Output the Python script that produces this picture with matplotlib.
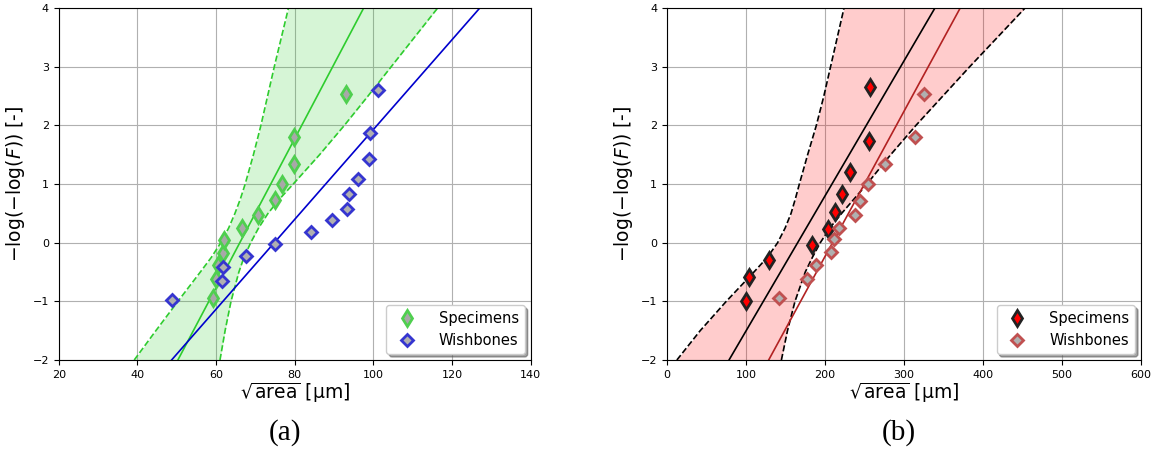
import matplotlib
matplotlib.use('Agg')
import matplotlib.pyplot as plt
import numpy as np

# ---- (a) data ----
a_spec_x = [59.2, 59.9, 60.5, 61.7, 62.1, 66.7, 70.6, 75.0, 76.7, 79.7, 79.9, 93.1]
a_spec_y = [-0.94, -0.61, -0.38, -0.17, 0.05, 0.26, 0.47, 0.73, 1.00, 1.34, 1.80, 2.53]
a_wish_x = [48.8, 61.6, 61.7, 67.7, 75.1, 84.2, 89.4, 93.2, 93.7, 96.0, 98.9, 99.1, 101.3]
a_wish_y = [-0.97, -0.66, -0.42, -0.22, -0.02, 0.18, 0.38, 0.58, 0.83, 1.09, 1.43, 1.88, 2.61]

# fitted lines, x at y = -2 and y = 4
fit_y = [-2, 4]
a_spec_fit = [50.3, 97.5]
a_wish_fit = [48.7, 127.0]

# confidence band (x read at each y)
band_y = [-2, -1.5, -1, -0.5, -0.25, 0, 0.25, 0.5, 0.75, 1, 1.5, 2, 2.5, 3, 3.5, 4]
a_band_hi = [39.2, 44.7, 50.3, 56.0, 58.8, 61.2, 63.2, 64.8, 66.2, 67.4,
             69.5, 71.4, 73.1, 74.8, 76.6, 78.4]
a_band_lo = [61.0, 62.3, 63.8, 65.8, 67.1, 68.8, 70.8, 73.2, 76.2, 79.6,
             86.3, 92.6, 98.6, 104.5, 110.4, 116.3]

# ---- (b) data ----
b_spec_x = [100.1, 104.4, 129.6, 183.0, 204.0, 212.9, 221.8, 231.2, 256.0, 256.5]
b_spec_y = [-0.99, -0.58, -0.29, -0.03, 0.23, 0.52, 0.83, 1.21, 1.73, 2.66]
b_wish_x = [142.3, 176.9, 188.6, 207.3, 212.0, 217.1, 237.7, 244.7, 254.1, 276.1, 313.5, 325.2]
b_wish_y = [-0.94, -0.61, -0.38, -0.16, 0.06, 0.26, 0.48, 0.72, 1.00, 1.34, 1.80, 2.53]

b_spec_fit = [78.5, 339.0]
b_wish_fit = [128.7, 371.0]

b_band_hi = [12.5, 42.0, 75.0, 110.0, 127.0, 140.0, 149.5, 157.0, 162.5, 167.5,
             178.0, 189.0, 198.5, 207.0, 215.5, 224.0]
b_band_lo = [144.8, 152.5, 162.0, 175.0, 184.0, 194.0, 206.0, 221.0, 237.0, 253.0,
             283.0, 315.0, 349.0, 383.0, 418.0, 453.0]


def draw_panel(ax, spec_x, spec_y, wish_x, wish_y, spec_fit, wish_fit,
               band_hi, band_lo, band_col, band_ls_col, spec_line_col, wish_line_col,
               spec_style, wish_style, xlim, xticks):

    ax.fill_betweenx(band_y, band_hi, band_lo, color=band_col, alpha=0.2, lw=0, zorder=1)
    ax.plot(band_hi, band_y, ls='--', color=band_ls_col, lw=1.2, zorder=2)
    ax.plot(band_lo, band_y, ls='--', color=band_ls_col, lw=1.2, zorder=2)
    ax.plot(spec_fit, fit_y, color=spec_line_col, lw=1.2, zorder=2)
    ax.plot(wish_fit, fit_y, color=wish_line_col, lw=1.2, zorder=2)

    ax.plot(spec_x, spec_y, ls='none', label='Specimens', zorder=3, **spec_style)
    ax.plot(wish_x, wish_y, ls='none', label='Wishbones', zorder=3, **wish_style)

    ax.set_xlim(xlim)
    ax.set_ylim(-2, 4)
    ax.set_xticks(xticks)
    ax.set_yticks([-2, -1, 0, 1, 2, 3, 4])
    ax.grid(True, color='#b0b0b0', lw=0.8)
    ax.set_axisbelow(True)
    ax.tick_params(labelsize=8)
    ax.set_xlabel(r'$\sqrt{\mathrm{area}}$ [μm]', fontsize=13.5, labelpad=1)
    ax.set_ylabel(r'$-\log(-\log(F))$ [-]', fontsize=13.5, labelpad=4)
    ax.legend(loc='lower right', shadow=True, fontsize=10.5, borderaxespad=0.4,
              handletextpad=1.2)


fig = plt.figure(figsize=(11.58, 4.53), dpi=100)
ax1 = fig.add_axes([0.0507, 0.2053, 0.4076, 0.7765])
ax2 = fig.add_axes([0.576, 0.2053, 0.4093, 0.7765])

draw_panel(ax1, a_spec_x, a_spec_y, a_wish_x, a_wish_y, a_spec_fit, a_wish_fit,
           a_band_hi, a_band_lo, 'limegreen', '#2ecc2e', '#2ecc2e', '#0000cd',
           dict(marker='d', ms=8, mfc='#a8a8a8', mec='#4fcf4f', mew=2),
           dict(marker='D', ms=6.5, mfc='#b0b0b0', mec='#3535d0', mew=2),
           (20, 140), np.arange(20, 141, 20))

draw_panel(ax2, b_spec_x, b_spec_y, b_wish_x, b_wish_y, b_spec_fit, b_wish_fit,
           b_band_hi, b_band_lo, 'red', 'black', 'black', '#b22222',
           dict(marker='d', ms=8, mfc='red', mec='#222222', mew=2),
           dict(marker='D', ms=6.5, mfc='#b0b0b0', mec='#c05050', mew=2),
           (0, 600), np.arange(0, 601, 100))

fig.text(0.2465, 0.046, '(a)', ha='center', va='center', fontsize=21, family='Liberation Serif')
fig.text(0.776, 0.046, '(b)', ha='center', va='center', fontsize=21, family='Liberation Serif')

fig.savefig('out.png', dpi=100)
